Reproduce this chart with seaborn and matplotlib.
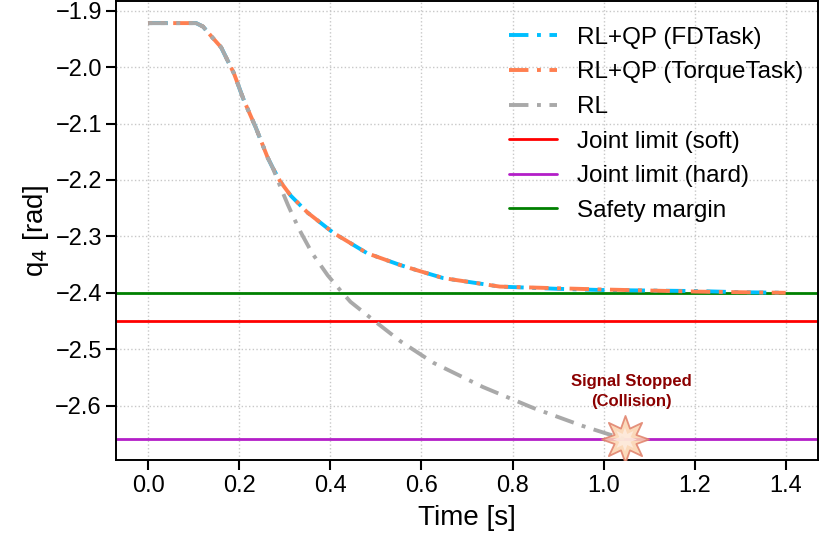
import numpy as np
import pandas as pd
import matplotlib
matplotlib.use("Agg")
import matplotlib.pyplot as plt
import seaborn as sns

# values
t_qp = [0.0, 0.05, 0.105, 0.12, 0.138, 0.16, 0.188, 0.21, 0.236, 0.262, 0.273, 0.29,
        0.313, 0.35, 0.407, 0.481, 0.554, 0.59, 0.648, 0.772, 0.9, 0.991, 1.1, 1.21, 1.3, 1.4]
q_fd = [-1.922, -1.922, -1.922, -1.928, -1.945, -1.965, -2.011, -2.059, -2.107, -2.160,
        -2.178, -2.203, -2.228, -2.258, -2.294, -2.330, -2.351, -2.360, -2.374, -2.389,
        -2.393, -2.395, -2.396, -2.397, -2.399, -2.400]
q_torque = [-1.922, -1.922, -1.922, -1.928, -1.945, -1.965, -2.011, -2.059, -2.107, -2.160,
            -2.178, -2.203, -2.228, -2.258, -2.294, -2.330, -2.351, -2.360, -2.374, -2.389,
            -2.392, -2.394, -2.396, -2.398, -2.399, -2.400]

t_rl = [0.0, 0.05, 0.105, 0.12, 0.138, 0.16, 0.188, 0.21, 0.236, 0.262, 0.273, 0.29,
        0.306, 0.32, 0.335, 0.36, 0.394, 0.42, 0.444, 0.50, 0.554, 0.626, 0.735, 0.845,
        0.954, 1.02, 1.05]
q_rl = [-1.922, -1.922, -1.922, -1.928, -1.945, -1.965, -2.011, -2.059, -2.107, -2.160,
        -2.178, -2.212, -2.243, -2.268, -2.293, -2.330, -2.369, -2.394, -2.416, -2.452,
        -2.486, -2.524, -2.567, -2.604, -2.636, -2.653, -2.660]

soft_limit = -2.45
hard_limit = -2.66
safety_margin = -2.40
stop_time = 1.047

sns.set_theme(style="whitegrid")
plt.rcParams['font.family'] = ['Liberation Sans', 'DejaVu Sans']
plt.rcParams['axes.unicode_minus'] = True
plt.rcParams['text.color'] = 'black'
plt.rcParams['axes.labelcolor'] = 'black'

fig, ax = plt.subplots(figsize=(8.2, 5.5), dpi=100)
fig.subplots_adjust(left=0.142, right=0.997, top=0.998, bottom=0.163)

df_fd = pd.DataFrame({'t': t_qp, 'q': q_fd})
df_tq = pd.DataFrame({'t': t_qp, 'q': q_torque})
df_rl = pd.DataFrame({'t': t_rl, 'q': q_rl})

dash = (5, 2.2, 1, 2.2)
sns.lineplot(data=df_fd, x='t', y='q', ax=ax, color='#00BFFF', lw=2.8,
             label='RL+QP (FDTask)', zorder=3).lines[-1].set_dashes(dash)
sns.lineplot(data=df_tq, x='t', y='q', ax=ax, color='#FF7F50', lw=2.8,
             label='RL+QP (TorqueTask)', zorder=3).lines[-1].set_linestyle((4, dash))
sns.lineplot(data=df_rl, x='t', y='q', ax=ax, color='#A9A9A9', lw=2.8,
             label='RL', zorder=3).lines[-1].set_dashes(dash)

ax.axhline(soft_limit, color='red', lw=2, label='Joint limit (soft)', zorder=2)
ax.axhline(hard_limit, color='#B31EC8', lw=2, label='Joint limit (hard)', zorder=2)
ax.axhline(safety_margin, color='green', lw=2, label='Safety margin', zorder=2)

# collision marker
ax.scatter([stop_time], [hard_limit], marker=(8, 1, 0), s=1150, facecolor='#FBD3AE',
           edgecolor='#E0806A', linewidth=1.3, zorder=5, alpha=0.85)
ax.scatter([stop_time], [hard_limit], marker=(8, 1, 0), s=300, facecolor='#FFF1E8',
           edgecolor='none', zorder=6, alpha=0.7)
ax.text(1.061, -2.575, 'Signal Stopped\n(Collision)', ha='center', va='center',
        fontsize=12, fontweight='bold', color='#8B0000', linespacing=1.4)

ax.set_xlim(-0.07, 1.47)
ax.set_ylim(-2.697, -1.883)
ax.set_xticks(np.arange(0, 1.41, 0.2))
ax.set_yticks(np.round(np.arange(-2.6, -1.89, 0.1), 1))
ax.xaxis.set_major_formatter(matplotlib.ticker.FormatStrFormatter('%.1f'))
ax.set_xlabel('Time [s]', fontsize=20, labelpad=6)
ax.set_ylabel('q$_4$ [rad]', fontsize=20, labelpad=3)
ax.tick_params(axis='both', labelsize=17, direction='out', length=7, width=1.5,
               colors='black', bottom=True, left=True)
ax.grid(True, linestyle=':', color='#C8C8C8', lw=1)
for s in ax.spines.values():
    s.set_color('black')
    s.set_linewidth(1.4)

leg = ax.legend(loc='upper right', bbox_to_anchor=(1.0, 0.976), frameon=False,
                fontsize=17.5, handlelength=2.0, labelspacing=0.52, borderaxespad=0.2,
                handletextpad=0.8)
leg.get_lines()[1].set_linestyle((0, dash))

fig.savefig('out.png', dpi=100)
